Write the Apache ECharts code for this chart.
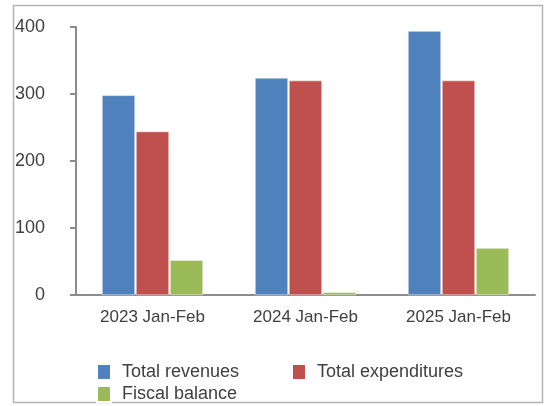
<!DOCTYPE html>
<html>
<head>
<meta charset="utf-8">
<script src="https://cdn.jsdelivr.net/npm/echarts@6/dist/echarts.min.js"></script>
<style>
  html, body { margin: 0; padding: 0; background: #fff; }
  #chart { width: 544px; height: 406px; }
</style>
</head>
<body>
<div id="chart"></div>
<script>
  // data
  var categories = ['2023 Jan-Feb', '2024 Jan-Feb', '2025 Jan-Feb']
  var revenues = [298, 324, 394]
  var expenditures = [244, 320, 320]
  var balance = [52, 4, 70]
  var yTicks = { min: 0, max: 400, interval: 100 }

  var font = 'Liberation Sans'
  var textColor = '#404040'
  var axisColor = '#8c8c8c'

  var chart = echarts.init(document.getElementById('chart'))

  function legendItem (name, left, top) {
    return {
      data: [name],
      left: left,
      top: top,
      icon: 'rect',
      itemWidth: 14,
      itemHeight: 16,
      itemGap: 0,
      padding: 0,
      selectedMode: false,
      textStyle: { fontFamily: font, fontSize: 18, color: textColor, padding: [0, 0, 0, 6] }
    }
  }

  var option = {
    animation: false,
    backgroundColor: '#fff',
    graphic: [{
      type: 'rect',
      shape: { x: 13.5, y: 5.5, width: 529, height: 397 },
      style: { fill: 'none', stroke: '#b4b4b4', lineWidth: 1.5 },
      silent: true
    }],
    grid: { left: 76, right: 9, top: 27, bottom: 111 },
    legend: [
      legendItem('Total revenues', 96, 363),
      legendItem('Total expenditures', 291, 363),
      legendItem('Fiscal balance', 96, 385)
    ],
    xAxis: {
      type: 'category',
      data: categories,
      axisLine: { lineStyle: { color: axisColor, width: 2 } },
      axisTick: { length: 5, lineStyle: { color: axisColor, width: 2 } },
      axisLabel: { fontFamily: font, fontSize: 17, color: textColor, margin: 14 }
    },
    yAxis: {
      type: 'value',
      min: yTicks.min,
      max: yTicks.max,
      interval: yTicks.interval,
      splitLine: { show: false },
      axisLine: { show: true, lineStyle: { color: axisColor, width: 2 } },
      axisTick: { show: true, length: 6, lineStyle: { color: axisColor, width: 2 } },
      axisLabel: { fontFamily: font, fontSize: 18, color: textColor, margin: 31 }
    },
    series: [
      {
        name: 'Total revenues',
        type: 'bar',
        data: revenues,
        barWidth: 33,
        barGap: '3%',
        itemStyle: { color: '#4F81BD', borderColor: '#fff', borderWidth: 0.5 }
      },
      {
        name: 'Total expenditures',
        type: 'bar',
        data: expenditures,
        barWidth: 33,
        barGap: '3%',
        itemStyle: { color: '#C0504D', borderColor: '#fff', borderWidth: 0.5 }
      },
      {
        name: 'Fiscal balance',
        type: 'bar',
        data: balance,
        barWidth: 33,
        barGap: '3%',
        itemStyle: { color: '#9BBB59', borderColor: '#fff', borderWidth: 0.5 }
      }
    ]
  }
  chart.setOption(option)
</script>
</body>
</html>
